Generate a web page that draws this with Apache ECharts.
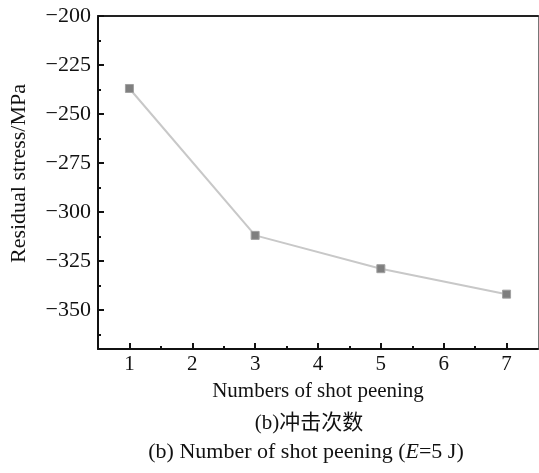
<!DOCTYPE html>
<html>
<head>
<meta charset="utf-8">
<script src="https://cdn.jsdelivr.net/npm/echarts@6/dist/echarts.min.js"></script>
<style>
  html, body { margin: 0; padding: 0; background: #fff; }
  #chart { width: 539px; height: 473px; }
</style>
</head>
<body>
<div id="chart"></div>
<script>
  // 冲击次数 vs 残余应力
  var shotCounts = [1, 3, 5, 7];
  var residualStress = [-237, -312, -329, -342];
  var xTicks = [1, 2, 3, 4, 5, 6, 7];
  var xMinorTicks = [1.5, 2.5, 3.5, 4.5, 5.5, 6.5];
  var yTicks = [-350, -325, -300, -275, -250, -225, -200];
  var yMinorTicks = [-362.5, -337.5, -312.5, -287.5, -262.5, -237.5, -212.5];

  var serif = '"Liberation Serif", "Noto Sans CJK SC", serif';
  var chart = echarts.init(document.getElementById('chart'));

  var points = shotCounts.map(function (x, i) { return [x, residualStress[i]]; });

  function minusFmt(v) {
    return String(v).replace('-', '\u2212');
  }

  var option = {
    backgroundColor: '#fff',
    animation: false,
    grid: { left: 96, top: 16, right: 1, bottom: 124 },
    xAxis: [
      {
        type: 'value', min: 0.5, max: 7.5, position: 'bottom',
        name: 'Numbers of shot peening', nameLocation: 'middle', nameGap: 32,
        nameTextStyle: { fontFamily: serif, fontSize: 21, color: '#111' },
        axisLine: { show: true, lineStyle: { color: '#111', width: 2 } },
        axisTick: { show: true, inside: true, length: 6, customValues: xTicks, lineStyle: { color: '#111', width: 2 } },
        axisLabel: { customValues: xTicks, margin: 5, fontFamily: serif, fontSize: 21, color: '#111' },
        splitLine: { show: false }
      },
      {
        type: 'value', min: 0.5, max: 7.5, position: 'bottom',
        axisLine: { show: false },
        axisTick: { show: true, inside: true, length: 3, customValues: xMinorTicks, lineStyle: { color: '#111', width: 2 } },
        axisLabel: { show: false },
        splitLine: { show: false }
      },
      {
        type: 'value', min: 0.5, max: 7.5, position: 'top',
        axisLine: { show: true, lineStyle: { color: '#222', width: 2 } },
        axisTick: { show: false }, axisLabel: { show: false }, splitLine: { show: false }
      }
    ],
    yAxis: [
      {
        type: 'value', min: -370, max: -200, position: 'left',
        name: 'Residual stress/MPa', nameLocation: 'middle', nameGap: 68, nameRotate: 90,
        nameTextStyle: { fontFamily: serif, fontSize: 22, color: '#111', padding: [0, 0, 0, 18] },
        axisLine: { show: true, lineStyle: { color: '#111', width: 2 } },
        axisTick: { show: true, inside: true, length: 6, customValues: yTicks, lineStyle: { color: '#111', width: 2 } },
        axisLabel: { customValues: yTicks, margin: 7, fontFamily: serif, fontSize: 22, color: '#111', formatter: minusFmt },
        splitLine: { show: false }
      },
      {
        type: 'value', min: -370, max: -200, position: 'left',
        axisLine: { show: false },
        axisTick: { show: true, inside: true, length: 3, customValues: yMinorTicks, lineStyle: { color: '#111', width: 2 } },
        axisLabel: { show: false },
        splitLine: { show: false }
      },
      {
        type: 'value', min: -370, max: -200, position: 'right',
        axisLine: { show: true, lineStyle: { color: '#777', width: 1 } },
        axisTick: { show: false }, axisLabel: { show: false }, splitLine: { show: false }
      }
    ],
    series: [
      {
        type: 'line',
        xAxisIndex: 0,
        yAxisIndex: 0,
        data: points,
        symbol: 'rect',
        symbolSize: 8,
        lineStyle: { color: '#c8c8c8', width: 2 },
        itemStyle: { color: '#7f7f7f', borderColor: '#a0a0a0', borderWidth: 1 }
      }
    ],
    graphic: [
      {
        type: 'text', x: 309, y: 423,
        style: { text: '(b)冲击次数', fontFamily: serif, fontSize: 21, fill: '#111', align: 'center', verticalAlign: 'middle' }
      },
      {
        type: 'text', x: 306, y: 452,
        style: {
          text: '(b) Number of shot peening ({i|E}=5 J)',
          fontFamily: serif, fontSize: 22, fill: '#111', align: 'center', verticalAlign: 'middle',
          rich: { i: { fontFamily: serif, fontSize: 22, fontStyle: 'italic', fill: '#111' } }
        }
      }
    ]
  };

  chart.setOption(option);
</script>
</body>
</html>
